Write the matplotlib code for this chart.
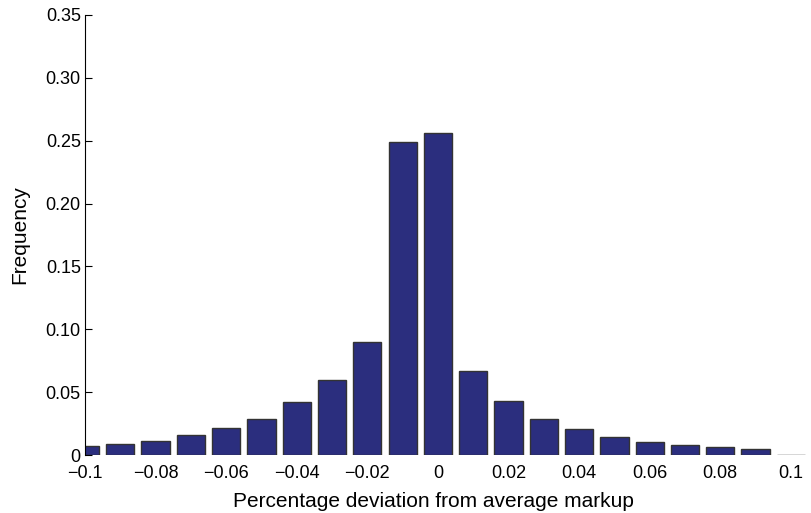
import numpy as np
from matplotlib import pyplot as plt

plt.rcParams['font.family'] = ['Liberation Sans', 'DejaVu Sans']

centers = [-0.10, -0.09, -0.08, -0.07, -0.06, -0.05, -0.04, -0.03, -0.02, -0.01,
           0.00, 0.01, 0.02, 0.03, 0.04, 0.05, 0.06, 0.07, 0.08, 0.09, 0.10]
freq = [0.007, 0.009, 0.0115, 0.016, 0.0215, 0.0285, 0.042, 0.060, 0.090, 0.249,
        0.256, 0.067, 0.043, 0.029, 0.021, 0.0145, 0.0105, 0.008, 0.0063, 0.005, 0.0]

xticks = [-0.1, -0.08, -0.06, -0.04, -0.02, 0, 0.02, 0.04, 0.06, 0.08, 0.1]
xticklabels = ['\u22120.1', '\u22120.08', '\u22120.06', '\u22120.04', '\u22120.02', '0',
               '0.02', '0.04', '0.06', '0.08', '0.1']
yticks = [0, 0.05, 0.10, 0.15, 0.20, 0.25, 0.30, 0.35]
yticklabels = ['0', '0.05', '0.10', '0.15', '0.20', '0.25', '0.30', '0.35']

fig = plt.figure(figsize=(8.11, 5.13), dpi=100)
ax = fig.add_axes([0.1048, 0.113, 0.890, 0.858])

ax.bar(centers, freq, width=0.008, color='#2b2e7e', edgecolor='#333333', linewidth=1.0)

ax.set_xlim(-0.1, 0.1045)
ax.set_ylim(0, 0.35)
ax.set_xticks(xticks)
ax.set_xticklabels(xticklabels)
ax.set_yticks(yticks)
ax.set_yticklabels(yticklabels)
ax.tick_params(axis='x', length=0, labelsize=13, pad=7)
ax.tick_params(axis='y', direction='in', length=5, labelsize=13, pad=3)
for s in ['top', 'right', 'bottom']:
    ax.spines[s].set_visible(False)
ax.spines['left'].set_linewidth(0.8)

ax.set_xlabel('Percentage deviation from average markup', fontsize=15, labelpad=4)
ax.xaxis.set_label_coords(0.483, -0.085)
ax.set_ylabel('Frequency', fontsize=15, labelpad=12)

plt.savefig('out.png')
